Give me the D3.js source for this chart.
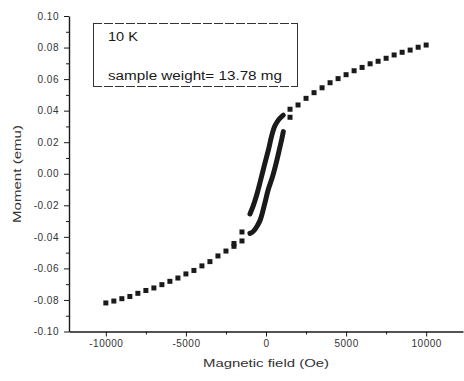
<!DOCTYPE html>
<html><head><meta charset="utf-8">
<script src="https://cdn.jsdelivr.net/npm/d3@7"></script>
<style>
html,body{margin:0;padding:0;background:#fff;}
svg{display:block;font-family:"Liberation Sans",Arial,sans-serif;}
</style></head>
<body><svg id="c" width="464" height="381"></svg>
<script>
// ---- data ----
const outerField = [-10000,-9500,-9000,-8500,-8000,-7500,-7000,-6500,-6000,-5500,-5000,-4500,-4000,-3500,-3000,-2500,-2000,-2000,-1500,-1500,
                    1500,1500,2000,2500,3000,3500,4000,4500,5000,5500,6000,6500,7000,7500,8000,8500,9000,9500,10000];
const outerMoment = [-0.0819,-0.0807,-0.0792,-0.0778,-0.0758,-0.0740,-0.0724,-0.0703,-0.0682,-0.0661,-0.0635,-0.0613,-0.0584,-0.0557,-0.0521,-0.0490,-0.0460,-0.0442,-0.0426,-0.0369,
                     0.0358,0.0409,0.0436,0.0478,0.0514,0.0545,0.0577,0.0603,0.0628,0.0653,0.0674,0.0697,0.0713,0.0732,0.0753,0.0770,0.0784,0.0802,0.0816];
const descField  = [1080, 800, 550, 350, 150, -100, -350, -600, -800, -1000];
const descMoment = [0.0372,0.0344,0.0303,0.0239,0.0151,0.0055,-0.0046,-0.0141,-0.0204,-0.0255];
const ascField   = [-1000,-800,-550,-350,-100,150,400,650,850,1000,1080];
const ascMoment  = [-0.0378,-0.0366,-0.0331,-0.0290,-0.0198,-0.0097,-0.0021,0.0074,0.0160,0.0227,0.0267];
const xTicks = [-10000,-5000,0,5000,10000];
const xTickLabels = ["-10000","-5000","0","5000","10000"];
const xMinor = [-7500,-2500,2500,7500];
const yTicks = [-0.10,-0.08,-0.06,-0.04,-0.02,0.00,0.02,0.04,0.06,0.08,0.10];
const yTickLabels = ["-0.10","-0.08","-0.06","-0.04","-0.02","0.00","0.02","0.04","0.06","0.08","0.10"];
const yMinor = [-0.09,-0.07,-0.05,-0.03,-0.01,0.01,0.03,0.05,0.07,0.09];
const legendLines = ["10 K","sample weight= 13.78 mg"];
const xTitle = "Magnetic field (Oe)";
const yTitle = "Moment (emu)";

// ---- chart ----
const svg = d3.select("#c");
const ink = "#1a1a1a";
const x = d3.scaleLinear().domain([-12300,12300]).range([69,463]);
const y = d3.scaleLinear().domain([-0.10,0.10]).range([331.5,16]);

svg.append("g").attr("transform","translate(0,"+y(-0.10)+")")
  .call(d3.axisBottom(x).tickValues(xTicks).tickFormat((d,i)=>xTickLabels[i]).tickSize(5).tickSizeOuter(0).tickPadding(3));
svg.append("g").attr("transform","translate(0,"+y(-0.10)+")")
  .call(d3.axisBottom(x).tickValues(xMinor).tickFormat("").tickSize(3).tickSizeOuter(0))
  .select(".domain").remove();
svg.append("g").attr("transform","translate("+x(-12300)+",0)")
  .call(d3.axisLeft(y).tickValues(yTicks).tickFormat((d,i)=>yTickLabels[i]).tickSize(5).tickSizeOuter(0).tickPadding(5));
svg.append("g").attr("transform","translate("+x(-12300)+",0)")
  .call(d3.axisLeft(y).tickValues(yMinor).tickFormat("").tickSize(3).tickSizeOuter(0))
  .select(".domain").remove();
svg.selectAll(".domain").attr("stroke",ink).attr("stroke-width",1.4);
svg.selectAll(".tick line").attr("stroke",ink).attr("stroke-width",1);
svg.selectAll(".tick text").attr("fill","#333").style("font-size","10px").style("letter-spacing","0.5px");

// outer squares
const sq = 5;
svg.append("g").selectAll("rect").data(outerField.map((f,i)=>[f,outerMoment[i]]))
  .join("rect")
  .attr("x",d=>x(d[0])-sq/2).attr("y",d=>y(d[1])-sq/2)
  .attr("width",sq).attr("height",sq).attr("fill",ink);

// loop branches (dense points drawn as thick traces)
const line = d3.line().x(d=>x(d[0])).y(d=>y(d[1])).curve(d3.curveCatmullRom);
[[descField,descMoment],[ascField,ascMoment]].forEach(([f,m])=>{
  svg.append("path").datum(f.map((v,i)=>[v,m[i]]))
    .attr("d",line).attr("fill","none").attr("stroke",ink)
    .attr("stroke-width",5).attr("stroke-linecap","round").attr("stroke-linejoin","round");
});

// legend box
const lg = svg.append("g");
lg.append("line").attr("x1",93).attr("x2",298).attr("y1",23.5).attr("y2",23.5).attr("stroke","#333").attr("stroke-dasharray","9,2");
lg.append("line").attr("x1",93).attr("x2",298).attr("y1",86.5).attr("y2",86.5).attr("stroke","#333").attr("stroke-dasharray","9,2");
lg.append("line").attr("x1",93.5).attr("x2",93.5).attr("y1",23).attr("y2",87).attr("stroke","#333");
lg.append("line").attr("x1",297.5).attr("x2",297.5).attr("y1",23).attr("y2",87).attr("stroke","#333");
lg.append("text").attr("x",108).attr("y",41).text(legendLines[0])
  .attr("fill",ink).style("font-size","12px").attr("textLength",30).attr("lengthAdjust","spacingAndGlyphs");
lg.append("text").attr("x",108).attr("y",80).text(legendLines[1])
  .attr("fill",ink).style("font-size","12px").attr("textLength",174).attr("lengthAdjust","spacingAndGlyphs");

// axis titles
svg.append("text").attr("x",266).attr("y",367).attr("text-anchor","middle").text(xTitle)
  .attr("fill","#333").style("font-size","11.5px").attr("textLength",126).attr("lengthAdjust","spacingAndGlyphs");
svg.append("text").attr("transform","translate(21,174) rotate(-90)").attr("text-anchor","middle").text(yTitle)
  .attr("fill","#333").style("font-size","11.5px").attr("textLength",98).attr("lengthAdjust","spacingAndGlyphs");
</script></body></html>
